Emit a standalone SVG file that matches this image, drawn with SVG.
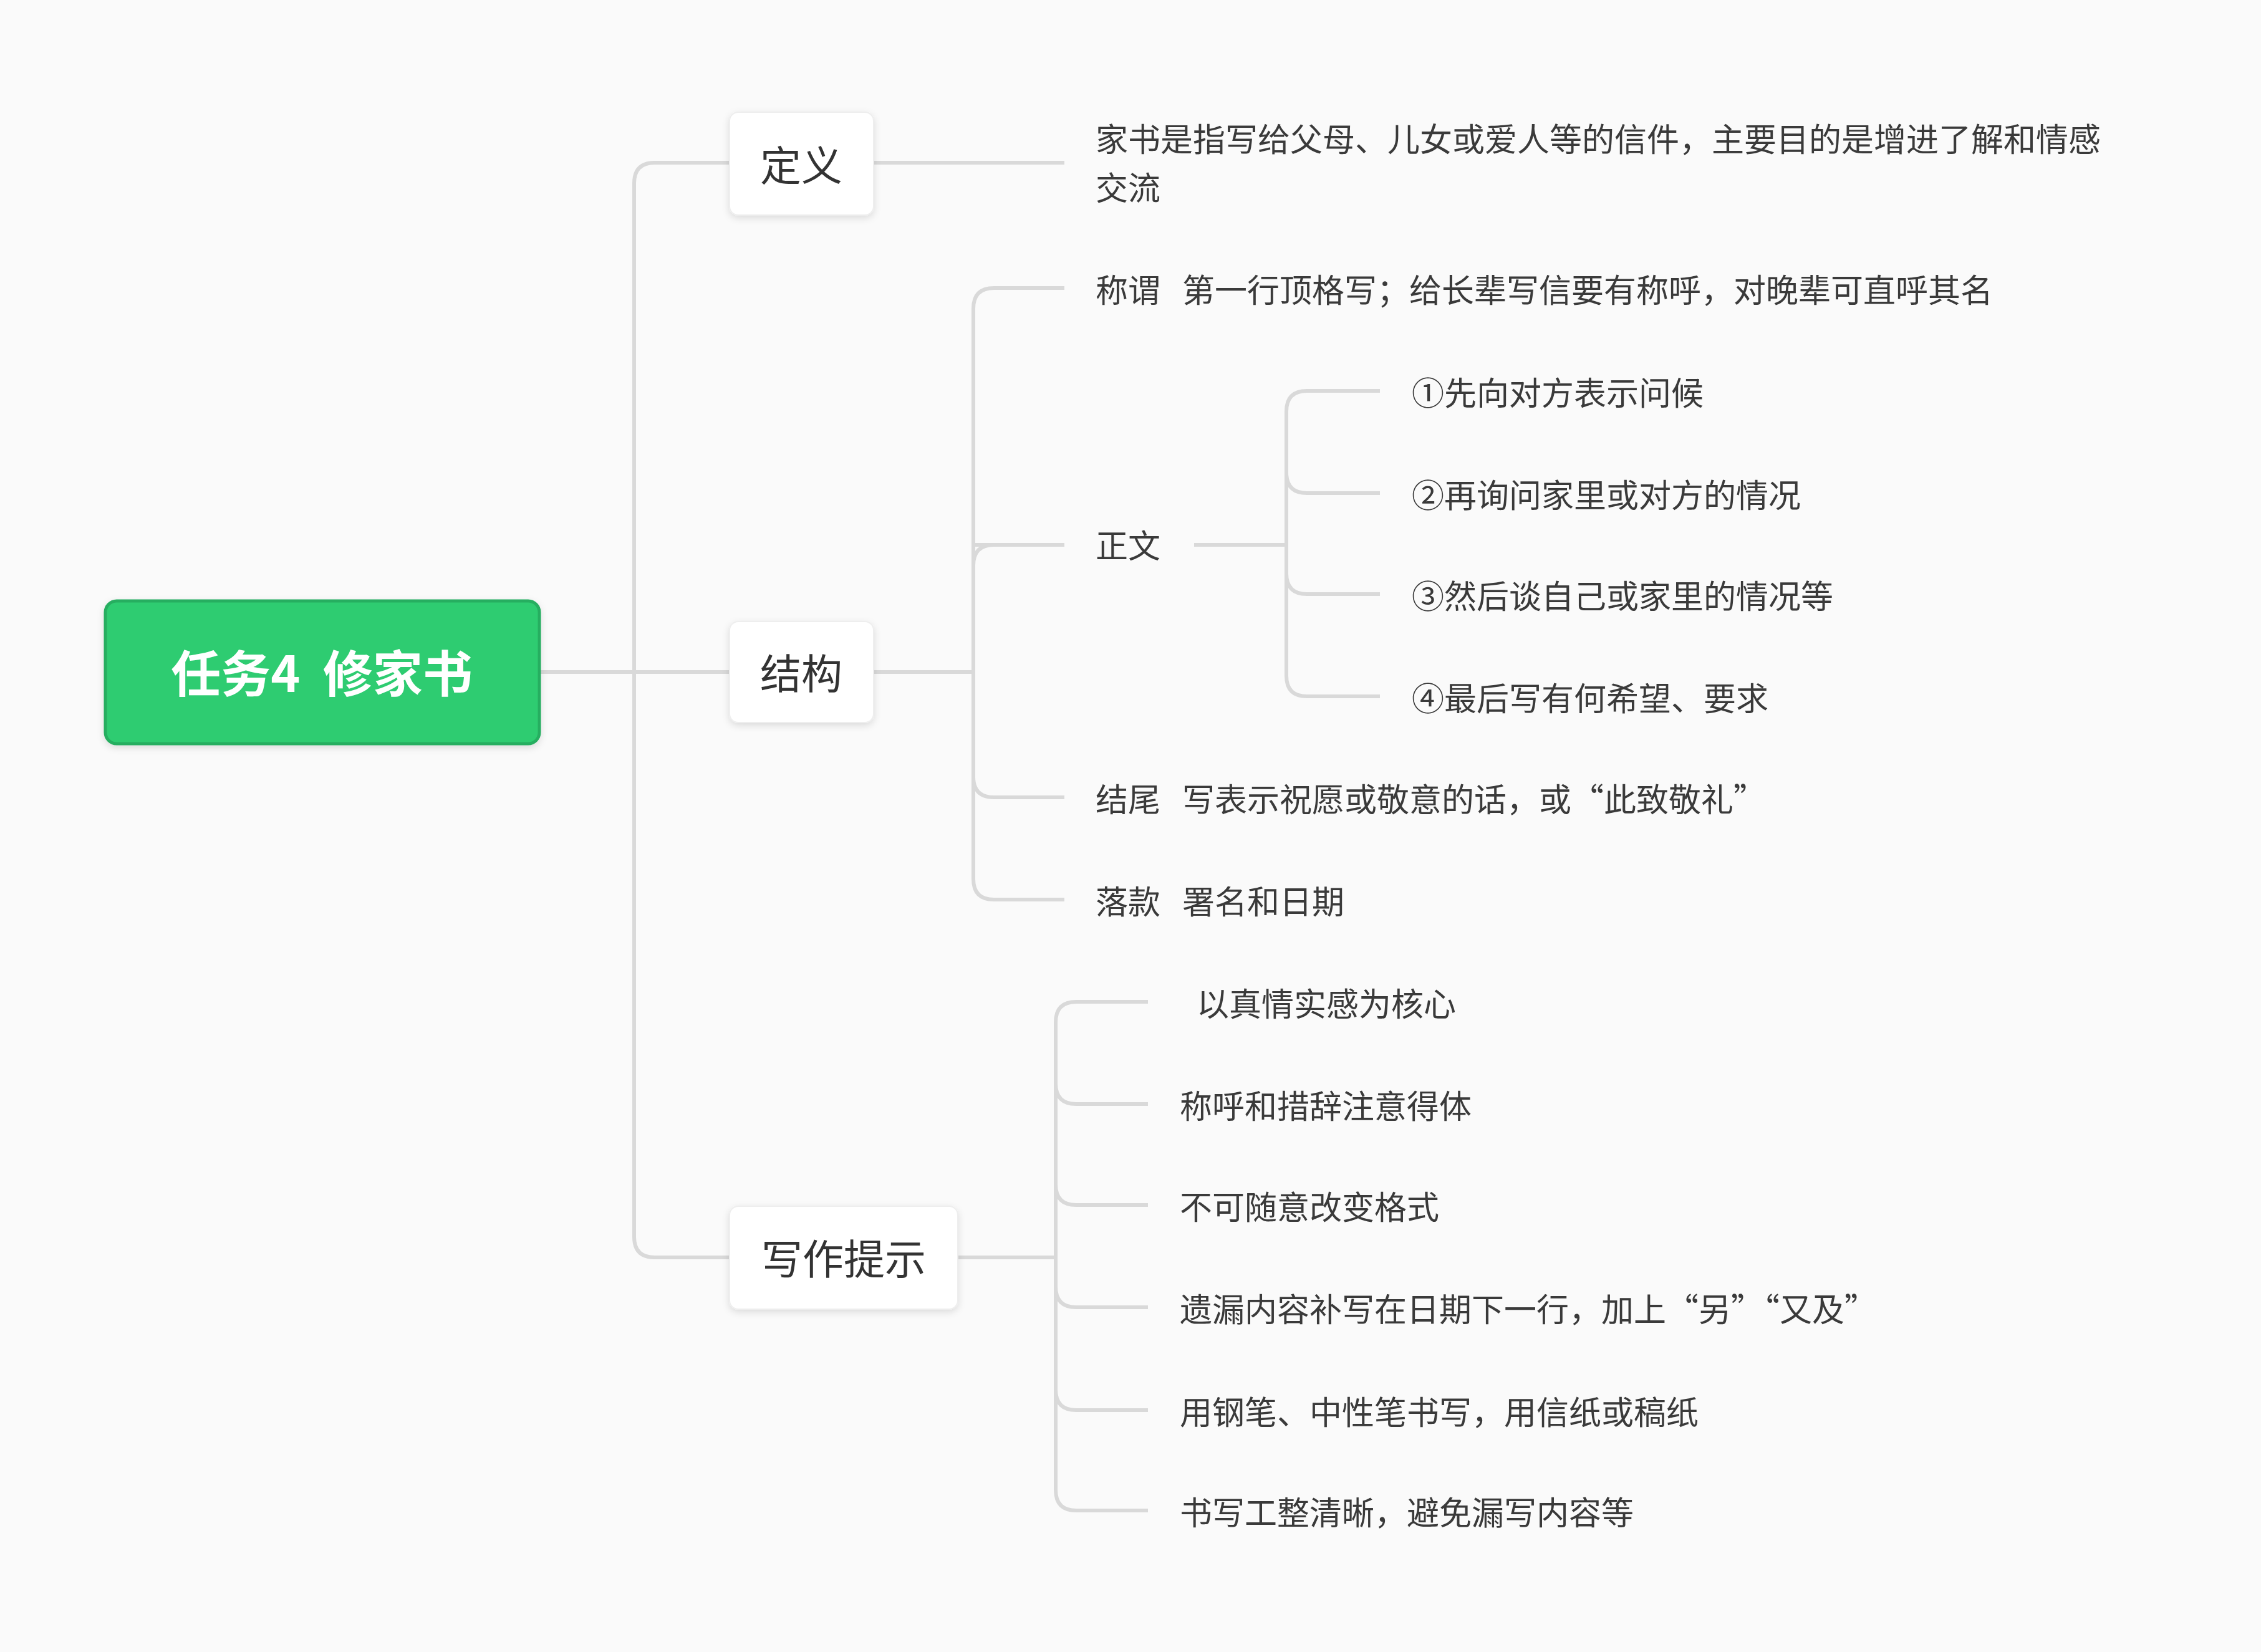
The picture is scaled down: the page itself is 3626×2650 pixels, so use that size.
<svg xmlns="http://www.w3.org/2000/svg" width="3626" height="2650" viewBox="0 0 3626 2650">
<defs>
<style>
.c{fill:none;stroke:#d9d9d9;stroke-width:6}
.t{font-family:"Noto Sans CJK SC","Noto Sans",sans-serif;font-size:52px;fill:#3a3a3a;dominant-baseline:central}
.n{fill:#fff;stroke:#eeeeee;stroke-width:2}
.nt{font-family:"Noto Sans CJK SC","Noto Sans",sans-serif;font-size:66px;fill:#333;dominant-baseline:central;text-anchor:middle}
</style>
<filter id="sh" x="-20%" y="-20%" width="140%" height="150%"><feDropShadow dx="0" dy="4" stdDeviation="6" flood-color="#000" flood-opacity="0.12"/></filter>
</defs>
<rect width="3626" height="2650" fill="#fafafa"/>
<g id="connectors">
<path class="c" d="M865 1078 H1170"/>
<path class="c" d="M1170 261 H1050 Q1017 261 1017 294 V1984 Q1017 2017 1050 2017 H1170"/>
<path class="c" d="M1401 261 H1707"/>
<path class="c" d="M1401 1078 H1561"/>
<path class="c" d="M1707 462 H1594 Q1561 462 1561 495 V1410 Q1561 1443 1594 1443 H1707"/>
<path class="c" d="M1561 874 Q1561 874 1594 874 H1707 M1561 907 Q1561 874 1594 874"/>
<path class="c" d="M1561 1246 Q1561 1279 1594 1279 H1707"/>
<path class="c" d="M1915 874 H2063"/>
<path class="c" d="M2213 627 H2096 Q2063 627 2063 660 V1084 Q2063 1117 2096 1117 H2213"/>
<path class="c" d="M2063 758 Q2063 791 2096 791 H2213"/>
<path class="c" d="M2063 920 Q2063 953 2096 953 H2213"/>
<path class="c" d="M1536 2017 H1693"/>
<path class="c" d="M1841 1607 H1726 Q1693 1607 1693 1640 V2390 Q1693 2423 1726 2423 H1841"/>
<path class="c" d="M1693 1738 Q1693 1771 1726 1771 H1841"/>
<path class="c" d="M1693 1900 Q1693 1933 1726 1933 H1841"/>
<path class="c" d="M1693 2064 Q1693 2097 1726 2097 H1841"/>
<path class="c" d="M1693 2229 Q1693 2262 1726 2262 H1841"/>
</g>
<g id="root">
<rect x="169" y="964" width="696" height="229" rx="18" fill="#2ecc71" stroke="#27ae60" stroke-width="5" filter="url(#sh)"/>
<text x="516" y="1075" font-family="'Noto Sans CJK SC','Noto Sans',sans-serif" font-size="80" font-weight="bold" fill="#fff" text-anchor="middle" dominant-baseline="central" xml:space="preserve">任务4  修家书</text>
</g>
<g id="n-def"><rect class="n" x="1170" y="180" width="231" height="165" rx="14" filter="url(#sh)"/><text class="nt" x="1285" y="261">定义</text></g>
<g id="n-struct"><rect class="n" x="1170" y="997" width="231" height="162" rx="14" filter="url(#sh)"/><text class="nt" x="1285" y="1076">结构</text></g>
<g id="n-tips"><rect class="n" x="1170" y="1935" width="366" height="165" rx="14" filter="url(#sh)"/><text class="nt" x="1353" y="2015">写作提示</text></g>
<g id="def-text"><text class="t" x="1757" y="220">家书是指写给父母、儿女或爱人等的信件，主要目的是增进了解和情感</text><text class="t" x="1757" y="298">交流</text></g>
<g id="s1"><text class="t" x="1757" y="462" xml:space="preserve">称谓   第一行顶格写；给长辈写信要有称呼，对晚辈可直呼其名</text></g>
<g id="s2"><text class="t" x="1757" y="872">正文</text></g>
<g id="b1"><text class="t" x="2264" y="627">①先向对方表示问候</text></g>
<g id="b2"><text class="t" x="2264" y="791">②再询问家里或对方的情况</text></g>
<g id="b3"><text class="t" x="2264" y="953">③然后谈自己或家里的情况等</text></g>
<g id="b4"><text class="t" x="2264" y="1117">④最后写有何希望、要求</text></g>
<g id="s3"><text class="t" x="1757" y="1279" xml:space="preserve">结尾   写表示祝愿或敬意的话，或“此致敬礼”</text></g>
<g id="s4"><text class="t" x="1757" y="1443" xml:space="preserve">落款   署名和日期</text></g>
<g id="w1"><text class="t" x="1919" y="1607">以真情实感为核心</text></g>
<g id="w2"><text class="t" x="1892" y="1771">称呼和措辞注意得体</text></g>
<g id="w3"><text class="t" x="1892" y="1933">不可随意改变格式</text></g>
<g id="w4"><text class="t" x="1892" y="2097">遗漏内容补写在日期下一行，加上“另”“又及”</text></g>
<g id="w5"><text class="t" x="1892" y="2262">用钢笔、中性笔书写，用信纸或稿纸</text></g>
<g id="w6"><text class="t" x="1892" y="2423">书写工整清晰，避免漏写内容等</text></g>
</svg>
